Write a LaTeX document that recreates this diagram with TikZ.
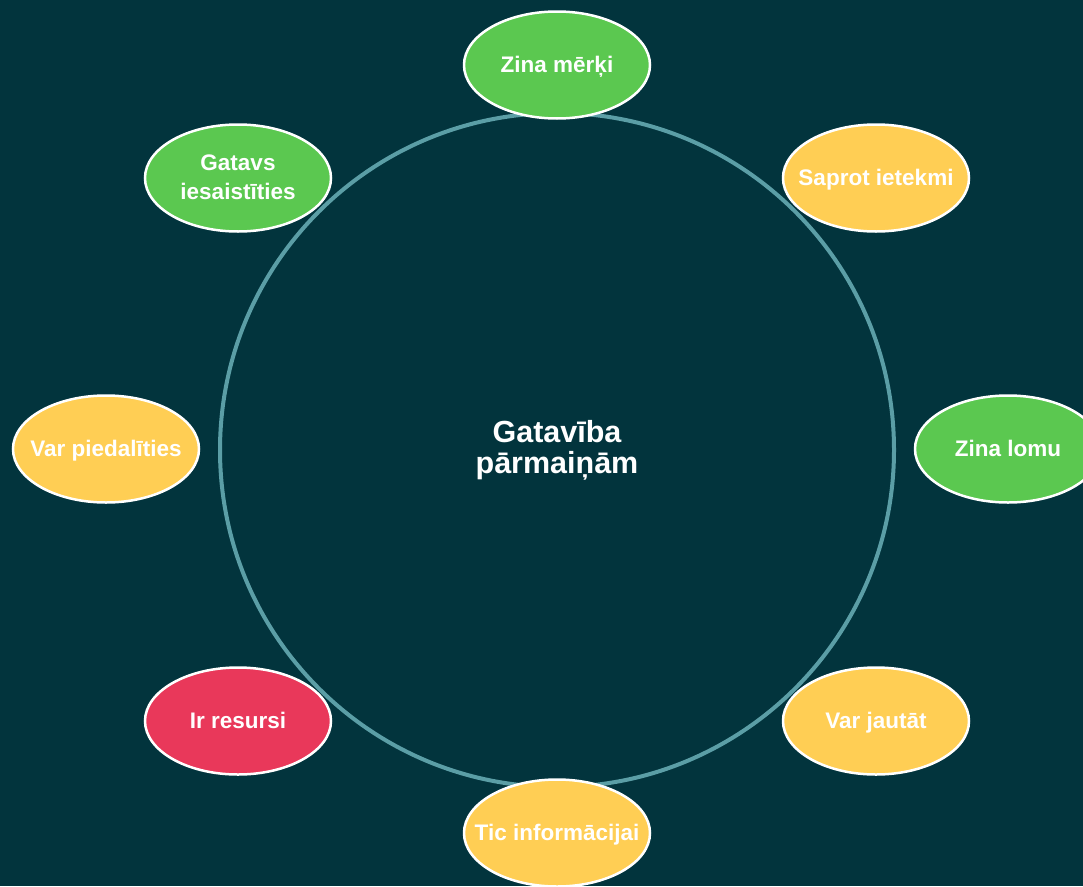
\documentclass[tikz,border=0pt]{standalone}
\usepackage{fontspec}
\setmainfont{Liberation Sans}
\usetikzlibrary{shapes.geometric}
\definecolor{bgc}{HTML}{02343D}
\definecolor{ringc}{HTML}{5B9EA6}
\definecolor{greenc}{HTML}{5BC850}
\definecolor{yellowc}{HTML}{FFCE54}
\definecolor{redc}{HTML}{E9385A}
\tikzset{
  bubble/.style={ellipse, draw=white, line width=2.5pt, minimum width=186pt, minimum height=107pt, inner sep=0pt},
  gb/.style={bubble, fill=greenc},
  yb/.style={bubble, fill=yellowc},
  rb/.style={bubble, fill=redc},
  btext/.style={text=white, font=\fontsize{22.5}{29}\selectfont\bfseries, align=center, inner sep=0pt, anchor=base},
  ring/.style={draw=ringc, line width=4pt},
  title/.style={text=white, font=\fontsize{30.5}{31}\selectfont\bfseries, align=center, inner sep=0pt, anchor=base}
}
\begin{document}
\begin{tikzpicture}[x=1pt,y=-1pt]
\fill[bgc] (0,0) rectangle (1083,886);
\useasboundingbox (0,0) rectangle (1083,886);
\node[circle, ring, minimum size=674pt, inner sep=0pt] (ring) at (557,450) {};
\node[title] (center) at (557,473) {Gatavība\\pārmaiņām};
\node[gb] (a) at (557,65) {};
\node[btext] (at) at ([yshift=-7.5pt]a.center) {Zina mērķi};
\node[yb] (b) at (876,178) {};
\node[btext] (bt) at ([yshift=-7.5pt]b.center) {Saprot ietekmi};
\node[gb] (c) at (1008,449) {};
\node[btext] (ct) at ([yshift=-7.5pt]c.center) {Zina lomu};
\node[yb] (d) at (876,721) {};
\node[btext] (dt) at ([yshift=-7.5pt]d.center) {Var jautāt};
\node[yb] (e) at (557,833) {};
\node[btext] (et) at ([yshift=-7.5pt]e.center) {Tic informācijai};
\node[rb] (f) at (238,721) {};
\node[btext] (ft) at ([yshift=-7.5pt]f.center) {Ir resursi};
\node[yb] (g) at (106,449) {};
\node[btext] (gt) at ([yshift=-7.5pt]g.center) {Var piedalīties};
\node[gb] (h) at (238,178) {};
\node[btext] (ht) at ([yshift=-21pt]h.center) {Gatavs\\iesaistīties};
\end{tikzpicture}
\end{document}
